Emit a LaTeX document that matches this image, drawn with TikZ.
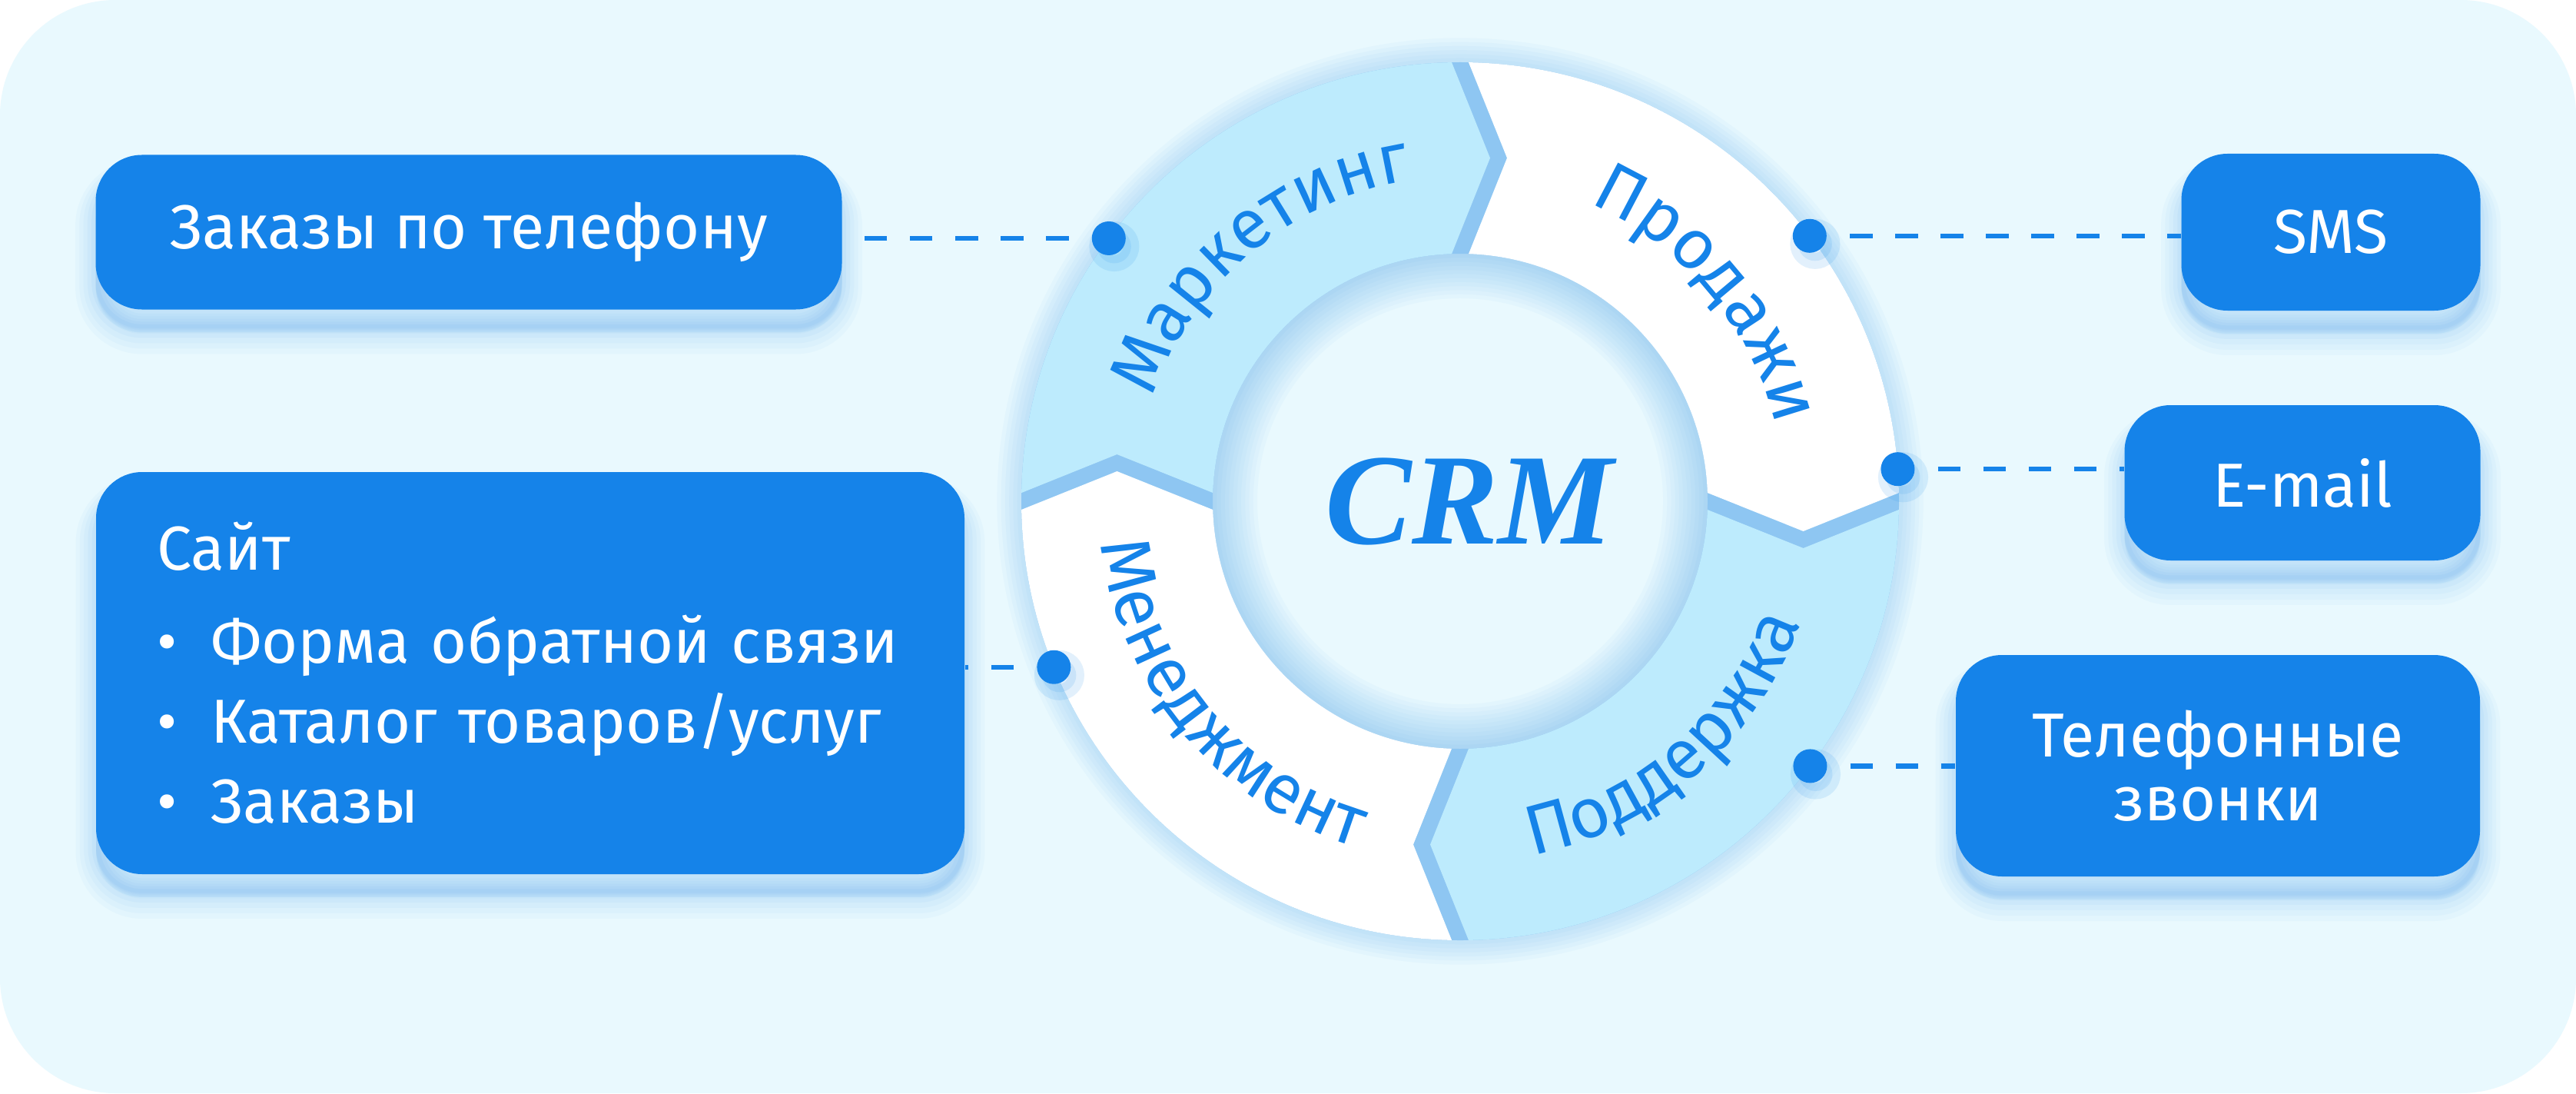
\documentclass[tikz,border=0pt]{standalone}
\usepackage{fontspec}
\setmainfont{Fira Sans}
\newfontfamily\crmfont{Liberation Serif}
\usetikzlibrary{calc,decorations.text,shadows}

\definecolor{mainblue}{HTML}{1583E9}
\definecolor{segblue}{HTML}{BDEBFD}
\definecolor{bgblue}{HTML}{E9F9FE}
\definecolor{gapblue}{HTML}{8EC6F2}
\definecolor{glowblue}{HTML}{3D9EEE}

\newcommand\ringfont{\fontsize{26}{26}\selectfont}

\tikzset{
  boxglow/.style={
    general shadow={draw=glowblue, fill=glowblue, line width=15pt, opacity=.035, shadow yshift=-9pt},
    general shadow={draw=glowblue, fill=glowblue, line width=12pt, opacity=.04, shadow yshift=-8.5pt},
    general shadow={draw=glowblue, fill=glowblue, line width=9pt, opacity=.045, shadow yshift=-8pt},
    general shadow={draw=glowblue, fill=glowblue, line width=6pt, opacity=.05, shadow yshift=-7.5pt},
    general shadow={draw=glowblue, fill=glowblue, line width=3pt, opacity=.06, shadow yshift=-7pt}},
  infobox/.style={rounded corners=0.6cm, fill=mainblue, text=white, inner sep=0pt,
    align=center, font=\fontsize{23}{29.6}\selectfont, boxglow},
  dot/.style={circle, fill=mainblue, inner sep=0pt, minimum size=0.44cm,
    general shadow={draw=glowblue, fill=glowblue, line width=6pt, opacity=.15, shadow xshift=2pt, shadow yshift=-3pt}},
  link/.style={mainblue, line width=1.8pt, dash pattern=on 8.4pt off 8.4pt, dash phase=8.4pt},
  ringtext/.style={decorate, decoration={text along path, text align=center,
    text color=mainblue, text={|\ringfont|#1}}},
  crm/.style={text=mainblue, font=\crmfont\fontsize{48}{48}\bfseries\itshape\selectfont}
}

\begin{document}
\begin{tikzpicture}
    % Frame
    \fill[white] (0,0) rectangle (33.52,14.22);
    \fill[bgblue, rounded corners=1.5cm] (0,0) rectangle (33.52,14.22);
    \useasboundingbox (0,0) rectangle (33.52,14.22);

    % Ring centre
    \coordinate (c) at (19,7.70);

    % Glow round the ring
    \foreach \w in {3,6,...,18}
      \draw[glowblue, opacity=.04, line width=\w pt] (c) circle (5.71);
    \foreach \w in {3,6,...,33}
      \draw[glowblue, opacity=.035, line width=\w pt] (c) circle (3.22);
    \fill[gapblue, even odd rule] (c) circle (5.71) (c) circle (3.22);

    % Four segments, each with a tip at its clockwise end
    \foreach \o/\col in {0/segblue, -90/white, -180/segblue, -270/white}
      \fill[\col] ($(c)+({178.9+\o}:5.71)$)
        arc[start angle={178.9+\o}, end angle={91.1+\o}, radius=5.71]
        -- ($(c)+({85.01+\o}:4.482)$) -- ($(c)+({91.96+\o}:3.22)$)
        arc[start angle={91.96+\o}, end angle={178.04+\o}, radius=3.22]
        -- ($(c)+({172.22+\o}:4.507)$) -- cycle;

    % Ring labels
    \path[ringtext=Маркетинг] ($(c)+(175:4.22)$) arc[start angle=175, end angle=85, radius=4.22];
    \path[ringtext=Продажи] ($(c)+(85:4.22)$) arc[start angle=85, end angle=-5, radius=4.22];
    \path[ringtext=Поддержка] ($(c)+(-94:4.70)$) arc[start angle=-94, end angle=-4, radius=4.70];
    \path[ringtext=Менеджмент] ($(c)+(175:4.70)$) arc[start angle=175, end angle=265, radius=4.70];

    % Centre label
    \node[crm] (crm) at (19.12,7.70) {CRM};

    % Channels
    \node[infobox, minimum width=9.71cm, minimum height=2.01cm] (orders) at (6.10,11.20) {Заказы по телефону};
    \node[infobox, align=left, text width=9.72cm, inner xsep=0.79cm, minimum height=5.23cm] (site) at (6.90,5.465)
      {Сайт\\[4.8pt]
       \makebox[0.87em][l]{•}Форма обратной связи\\
       \makebox[0.87em][l]{•}Каталог товаров/услуг\\
       \makebox[0.87em][l]{•}Заказы};
    \node[infobox, minimum width=3.89cm, minimum height=2.04cm] (sms) at (30.33,11.20) {SMS};
    \node[infobox, minimum width=4.63cm, minimum height=2.02cm] (email) at (29.96,7.94) {E-mail};
    \node[infobox, minimum width=6.82cm, minimum height=2.88cm, font=\fontsize{23}{23.6}\selectfont] (calls) at (28.86,4.26) {Телефонные\\звонки};

    % Dots on the ring
    \node[dot] (dmkt) at ($(c)+(143.2:5.71)$) {};
    \node[dot] (dsales) at ($(c)+(37.2:5.71)$) {};
    \node[dot] (dmail) at ($(c)+(4.2:5.71)$) {};
    \node[dot] (dmgmt) at ($(c)+(202.2:5.71)$) {};
    \node[dot] (dsup) at ($(c)+(-37.1:5.71)$) {};

    % Dashed links
    \draw[link] (dmkt) -- (dmkt -| orders.east);
    \draw[link] (dmgmt) -- (dmgmt -| site.east);
    \draw[link] (dsales) -- (dsales -| sms.west);
    \draw[link] (dmail) -- (dmail -| email.west);
    \draw[link] (dsup) -- (dsup -| calls.west);
\end{tikzpicture}
\end{document}
